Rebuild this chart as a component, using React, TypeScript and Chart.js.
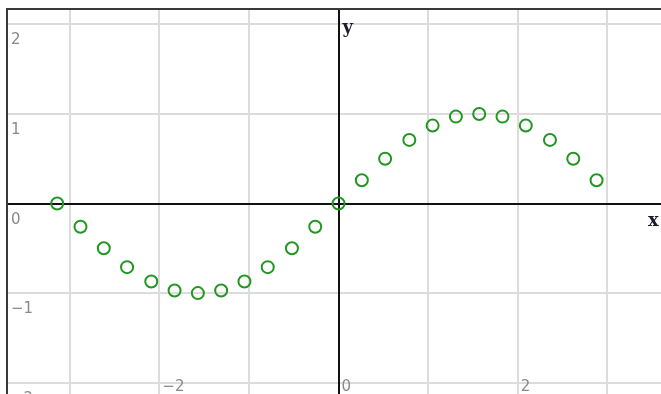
import React, { useEffect, useRef } from "react";
import { Chart, registerables } from "chart.js";

Chart.register(...registerables);

// Sample points of the plotted curve
const xValues = [
  -3.14, -2.88, -2.62, -2.36, -2.09, -1.83, -1.57, -1.31, -1.05, -0.79, -0.52, -0.26,
  0, 0.26, 0.52, 0.79, 1.05, 1.31, 1.57, 1.83, 2.09, 2.36, 2.62, 2.88,
];
const yValues = [
  0, -0.26, -0.5, -0.71, -0.87, -0.97, -1, -0.97, -0.87, -0.71, -0.5, -0.26,
  0, 0.26, 0.5, 0.71, 0.87, 0.97, 1, 0.97, 0.87, 0.71, 0.5, 0.26,
];

// Tick labels
const xTickLabels = [-2, 0, 2];
const yTickLabels = [2, 1, 0, -1, -2];

// Visible window of the board
const xMin = -3.689;
const xMax = 3.599;
const yMin = -2.126;
const yMax = 2.16;

const fmt = (v: number) => (v < 0 ? "\u2212" + Math.abs(v) : String(v));

const boardPlugin = {
  id: "board",
  beforeDatasetsDraw(chart: any) {
    const { ctx, chartArea, scales } = chart;
    const x0 = scales.x.getPixelForValue(0);
    const y0 = scales.y.getPixelForValue(0);
    ctx.save();
    ctx.strokeStyle = "#111";
    ctx.lineWidth = 2;
    ctx.beginPath();
    ctx.moveTo(chartArea.left, Math.round(y0));
    ctx.lineTo(chartArea.right, Math.round(y0));
    ctx.moveTo(Math.round(x0), chartArea.top);
    ctx.lineTo(Math.round(x0), chartArea.bottom);
    ctx.stroke();
    ctx.restore();
  },
  afterDraw(chart: any) {
    const { ctx, chartArea, scales } = chart;
    const x0 = scales.x.getPixelForValue(0);
    const y0 = scales.y.getPixelForValue(0);
    ctx.save();
    // border (top and left)
    ctx.strokeStyle = "#3a3a3a";
    ctx.lineWidth = 2;
    ctx.beginPath();
    ctx.moveTo(chartArea.left - 2, chartArea.top - 1);
    ctx.lineTo(chartArea.right, chartArea.top - 1);
    ctx.moveTo(chartArea.left - 1, chartArea.top - 2);
    ctx.lineTo(chartArea.left - 1, chartArea.bottom);
    ctx.stroke();

    // tick labels
    ctx.fillStyle = "#8a8a8a";
    ctx.font = '15px "DejaVu Sans"';
    ctx.textAlign = "left";
    ctx.textBaseline = "alphabetic";
    yTickLabels.forEach((v) => {
      const py = scales.y.getPixelForValue(v);
      ctx.fillText(fmt(v), chartArea.left + 3, py + 20);
    });
    xTickLabels.forEach((v) => {
      const px = scales.x.getPixelForValue(v);
      ctx.fillText(fmt(v), px + 3, chartArea.bottom - 3);
    });

    // axis names
    ctx.fillStyle = "#1a1a2a";
    ctx.font = 'bold 18px "DejaVu Serif"';
    ctx.fillText("y", x0 + 4, chartArea.top + 23);
    ctx.fillText("x", chartArea.right - 13, y0 + 22);
    ctx.restore();
  },
};

export default function App() {
  const canvasRef = useRef<HTMLCanvasElement | null>(null);

  useEffect(() => {
    if (!canvasRef.current) return;
    const points = xValues.map((x, i) => ({ x, y: yValues[i] }));
    const chart = new Chart(canvasRef.current, {
      type: "scatter",
      data: {
        datasets: [
          {
            data: points,
            showLine: false,
            pointRadius: 6,
            pointBorderWidth: 2,
            borderColor: "rgb(34,150,34)",
            backgroundColor: "rgba(0,0,0,0)",
            pointBackgroundColor: "rgba(0,0,0,0)",
            pointBorderColor: "rgb(34,150,34)",
          },
        ],
      },
      options: {
        animation: false,
        responsive: false,
        maintainAspectRatio: false,
        events: [],
        layout: { autoPadding: false, padding: { left: 8, top: 10, right: 0, bottom: 0 } },
        plugins: { legend: { display: false }, tooltip: { enabled: false } },
        scales: {
          x: {
            type: "linear",
            min: xMin,
            max: xMax,
            ticks: { display: false, stepSize: 1, includeBounds: false },
            grid: { color: "#dcdcdc", lineWidth: 2, drawTicks: false },
            border: { display: false },
          },
          y: {
            type: "linear",
            min: yMin,
            max: yMax,
            ticks: { display: false, stepSize: 1, includeBounds: false },
            grid: { color: "#dcdcdc", lineWidth: 2, drawTicks: false },
            border: { display: false },
          },
        },
      },
      plugins: [boardPlugin],
    });
    return () => chart.destroy();
  }, []);

  return (
    <div style={{ position: "fixed", left: 0, top: 0, width: 661, height: 394, background: "#fff", overflow: "hidden" }}>
      <canvas ref={canvasRef} width={661} height={394} style={{ display: "block", width: 661, height: 394 }} />
    </div>
  );
}
